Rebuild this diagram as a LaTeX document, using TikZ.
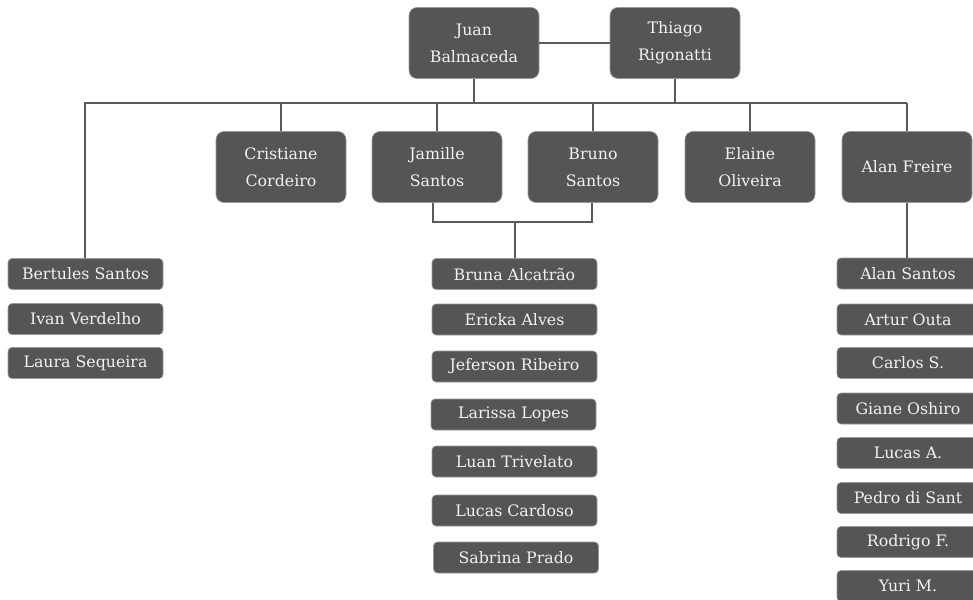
\documentclass[tikz,border=0pt]{standalone}
\usepackage{fontspec}
\setmainfont{DejaVu Serif}
\definecolor{boxfill}{HTML}{555555}
\definecolor{boxtext}{HTML}{F2F2F2}
\definecolor{linec}{HTML}{5A5A5A}
\begin{document}
\begin{tikzpicture}[x=1pt,y=-1pt,
  bigbox/.style={draw=boxfill!60!white,line width=0.6pt,fill=boxfill,text=boxtext,rounded corners=8pt,
    minimum width=130pt,minimum height=71pt,align=center,inner sep=0pt,
    font=\fontsize{15.8}{27}\selectfont},
  smallbox/.style={draw=boxfill!60!white,line width=0.6pt,fill=boxfill,text=boxtext,rounded corners=4pt,
    minimum height=31pt,align=center,inner sep=0pt,
    font=\fontsize{15.8}{18}\selectfont},
  leftbox/.style={smallbox,minimum width=155pt},
  midbox/.style={smallbox,minimum width=165pt},
  rightbox/.style={smallbox,minimum width=142pt},
  conn/.style={draw=linec,line width=1.2pt}
]
\useasboundingbox (0,0) rectangle (973,599);
\clip (0,0) rectangle (973,599);
\fill[white] (0,0) rectangle (973,599);

% top level
\node[bigbox] (jb) at (474,43) {Juan\\Balmaceda};
\node[bigbox] (tr) at (675,43) {Thiago\\Rigonatti};

% second level
\node[bigbox] (cc) at (281,167) {Cristiane\\Cordeiro};
\node[bigbox] (js) at (437,167) {Jamille\\Santos};
\node[bigbox] (bs) at (593,167) {Bruno\\Santos};
\node[bigbox] (eo) at (750,167) {Elaine\\Oliveira};
\node[bigbox] (af) at (907,167) {Alan Freire};

% left column
\node[leftbox] (b1) at (85.5,274) {Bertules Santos};
\node[leftbox] (b2) at (85.5,319) {Ivan Verdelho};
\node[leftbox] (b3) at (85.5,363) {Laura Sequeira};

% middle column
\node[midbox] (m1) at (514.5,274) {Bruna Alcatrão};
\node[midbox] (m2) at (514.5,319.5) {Ericka Alves};
\node[midbox] (m3) at (514.5,366.5) {Jeferson Ribeiro};
\node[midbox] (m4) at (513.5,414.5) {Larissa Lopes};
\node[midbox] (m5) at (514.5,461.5) {Luan Trivelato};
\node[midbox] (m6) at (514.5,510.5) {Lucas Cardoso};
\node[midbox] (m7) at (516,557.5) {Sabrina Prado};

% right column
\node[rightbox] (r1) at (908,273.5) {Alan Santos};
\node[rightbox] (r2) at (908,319.5) {Artur Outa};
\node[rightbox] (r3) at (908,363) {Carlos S.};
\node[rightbox] (r4) at (908,408.5) {Giane Oshiro};
\node[rightbox] (r5) at (908,453) {Lucas A.};
\node[rightbox] (r6) at (908,498) {Pedro di Sant};
\node[rightbox] (r7) at (908,542) {Rodrigo F.};
\node[rightbox] (r8) at (908,586) {Yuri M.};

% connectors
\coordinate (bus) at (0,103);
\draw[conn] (jb.east) -- (tr.west);
\draw[conn] (jb.south) -- (jb.south |- bus);
\draw[conn] (tr.south) -- (tr.south |- bus);
\draw[conn] (b1.north -| 85,0) -- (85,103) -- (af.north |- bus);
\draw[conn] (cc.north) -- (cc.north |- bus);
\draw[conn] (js.north) -- (js.north |- bus);
\draw[conn] (bs.north) -- (bs.north |- bus);
\draw[conn] (eo.north) -- (eo.north |- bus);
\draw[conn] (af.north) -- (af.north |- bus);
\draw[conn] (af.south) -- (r1.north -| af.south);

\coordinate (brk) at (0,222);
\draw[conn] ([xshift=-4pt]js.south) -- ([xshift=-4pt]js.south |- brk) -- ([xshift=-1pt]bs.south |- brk) -- ([xshift=-1pt]bs.south);
\draw[conn] (m1.north -| 515,0) -- (515,222);
\end{tikzpicture}
\end{document}
